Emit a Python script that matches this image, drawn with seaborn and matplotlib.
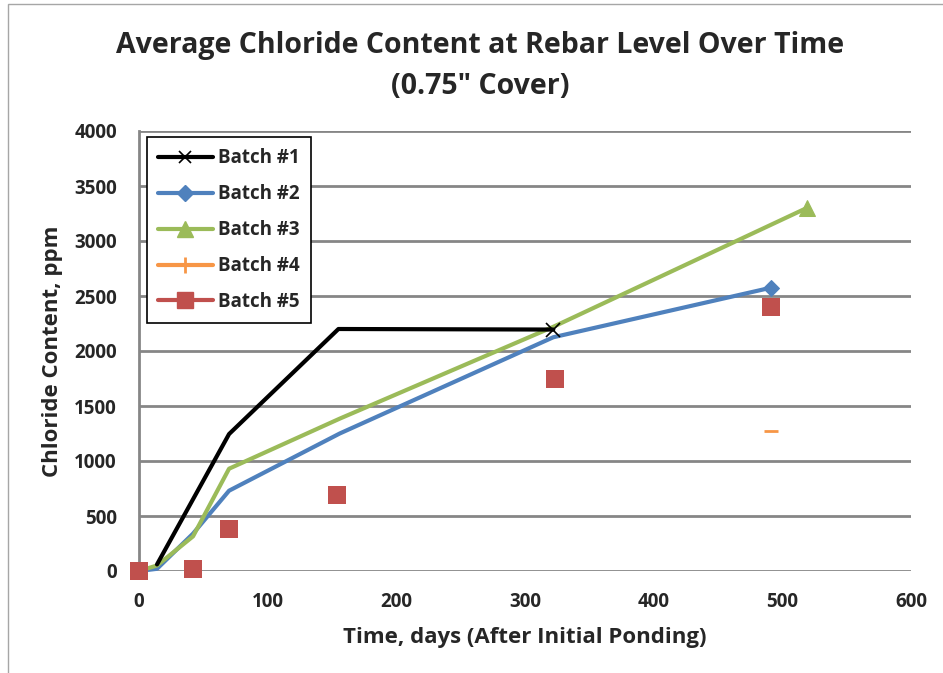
import matplotlib
matplotlib.use("Agg")
import matplotlib.pyplot as plt
from matplotlib.lines import Line2D
from matplotlib.patches import Rectangle
import seaborn as sns
import pandas as pd

# ---- data ----
b1_days = [14, 70, 155, 322]
b1_vals = [60, 1245, 2200, 2195]
b2_days = [0, 14, 42, 70, 156, 322, 491]
b2_vals = [0, 20, 340, 730, 1250, 2125, 2575]
b3_days = [0, 14, 42, 70, 156, 322, 519]
b3_vals = [0, 50, 315, 930, 1385, 2220, 3300]
b4_days = [491]
b4_vals = [1275]
b5_days = [0, 42, 70, 154, 323, 491]
b5_vals = [0, 20, 385, 690, 1750, 2400]

labels = ["Batch #1", "Batch #2", "Batch #3", "Batch #4", "Batch #5"]
colors = ["#000000", "#4F81BD", "#9BBB59", "#F79646", "#C0504D"]

title = "Average Chloride Content at Rebar Level Over Time\n(0.75\" Cover)"
xlabel = "Time, days (After Initial Ponding)"
ylabel = "Chloride Content, ppm"
xticks = [0, 100, 200, 300, 400, 500, 600]
yticks = [0, 500, 1000, 1500, 2000, 2500, 3000, 3500, 4000]

sns.set_theme(style="white")
plt.rcParams["font.family"] = ["Open Sans", "DejaVu Sans"]

fig = plt.figure(figsize=(9.43, 6.73), dpi=100)
ax = fig.add_axes([139/943, 1 - 571/673, (911 - 139)/943, (571 - 131)/673])

df1 = pd.DataFrame({"x": b1_days, "y": b1_vals})
df2 = pd.DataFrame({"x": b2_days, "y": b2_vals})
df3 = pd.DataFrame({"x": b3_days, "y": b3_vals})
df4 = pd.DataFrame({"x": b4_days, "y": b4_vals})
df5 = pd.DataFrame({"x": b5_days, "y": b5_vals})

sns.lineplot(data=df2, x="x", y="y", ax=ax, color=colors[1], lw=3, sort=False,
             estimator=None, marker="D", markersize=8, markevery=[len(b2_days) - 1],
             mec=colors[1], zorder=3, clip_on=False)
sns.lineplot(data=df3, x="x", y="y", ax=ax, color=colors[2], lw=3, sort=False,
             estimator=None, marker="^", markersize=11, markevery=[len(b3_days) - 1],
             mec=colors[2], zorder=4, clip_on=False)
sns.lineplot(data=df1, x="x", y="y", ax=ax, color=colors[0], lw=3, sort=False,
             estimator=None, marker="x", markersize=10, mew=1.2, markevery=[len(b1_days) - 1],
             mec="black", zorder=5, clip_on=False)
sns.scatterplot(data=df4, x="x", y="y", ax=ax, color=colors[3], marker="_", s=110,
                linewidth=2, zorder=6, clip_on=False)
sns.scatterplot(data=df5, x="x", y="y", ax=ax, color=colors[4], marker="s", s=150,
                linewidth=0, zorder=6, clip_on=False)

ax.set_xlim(0, 600)
ax.set_ylim(0, 4000)
ax.set_xticks(xticks)
ax.set_yticks(yticks)
ax.set_xticklabels([str(t) for t in xticks], fontsize=13.5, fontweight="bold")
ax.set_yticklabels([str(t) for t in yticks], fontsize=13.5, fontweight="bold")
ax.tick_params(axis="x", length=0, pad=15)
ax.tick_params(axis="y", length=0, pad=16)
ax.set_xlabel(xlabel, fontsize=16, fontweight="bold", labelpad=11)
ax.set_ylabel(ylabel, fontsize=16, fontweight="bold", labelpad=8)

ax.grid(axis="y", color="#868686", lw=2)
ax.grid(axis="x", visible=False)
ax.set_axisbelow(True)
for s in ["top", "right", "bottom"]:
    ax.spines[s].set_visible(False)
ax.spines["left"].set_color("#868686")
ax.spines["left"].set_linewidth(2)

fig.text(480/943, 1 - 45/673, "Average Chloride Content at Rebar Level Over Time",
         ha="center", va="center", fontsize=20.5, fontweight="bold")
fig.text(480/943, 1 - 87/673, "(0.75\" Cover)",
         ha="center", va="center", fontsize=20.5, fontweight="bold")

handles = [
    Line2D([], [], color=colors[0], lw=3, marker="x", markersize=9, mew=1.2),
    Line2D([], [], color=colors[1], lw=3, marker="D", markersize=8),
    Line2D([], [], color=colors[2], lw=3, marker="^", markersize=11),
    Line2D([], [], color=colors[3], lw=3, marker="|", markersize=11, mew=2),
    Line2D([], [], color=colors[4], lw=3, marker="s", markersize=11),
]
leg = ax.legend(handles, labels, loc="upper left", bbox_to_anchor=(8/772, 1 - 6/440),
                frameon=True, fancybox=False, edgecolor="black", framealpha=1,
                prop={"weight": "bold", "size": 13.5}, handlelength=2.9,
                labelspacing=0.85, borderpad=0.6, handletextpad=0.3, borderaxespad=0)
leg.get_frame().set_linewidth(1.2)

fig.patches.append(Rectangle((8/943, -0.1), 1.2, 1 - 4/673 + 0.1, transform=fig.transFigure,
                             fill=False, edgecolor="#a6a6a6", lw=1))

fig.savefig("out.png", dpi=100)
